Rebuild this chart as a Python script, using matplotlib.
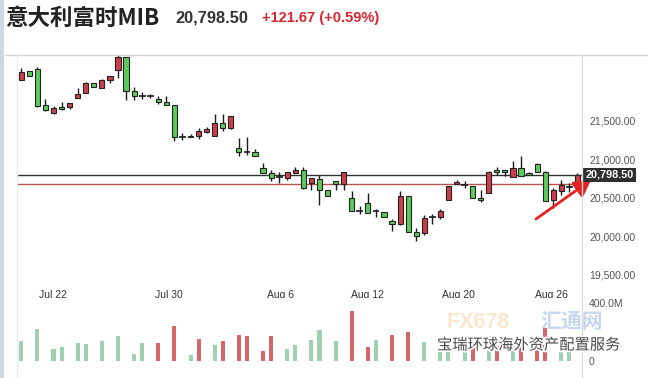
import numpy as np
import matplotlib.pyplot as plt
from matplotlib.patches import Rectangle
import matplotlib.patheffects as pe
from matplotlib.transforms import blended_transform_factory

plt.rcParams['font.family'] = ['Liberation Sans', 'DejaVu Sans']

# candle data (price points)
opens = [22022, 22138, 22164, 21699, 21596, 21677, 21674, 21797, 21854, 21983,
         21926, 22022, 22151, 22326, 21884, 21823, 21819, 21777, 21742, 21699,
         21281, 21299, 21299, 21346, 21299, 21467, 21410, 21145, 21093, 21093,
         20890, 20817, 20770, 20761, 20817, 20861, 20693, 20745, 20603, 20719,
         20680, 20499, 20332, 20435, 20326, 20310, 20197, 20155, 20525, 20052,
         20043, 20252, 20254, 20474, 20675, 20667, 20649, 20499, 20564, 20861,
         20861, 20774, 20886, 20817, 20938, 20835, 20468, 20585, 20645, 20701]
highs = [22185, 22138, 22190, 21781, 21694, 21738, 21725, 21923, 21996, 21983,
         22043, 22074, 22348, 22326, 21935, 21867, 21849, 21819, 21819, 21699,
         21338, 21320, 21403, 21419, 21583, 21583, 21557, 21277, 21286, 21132,
         20955, 20865, 20835, 20835, 20903, 20894, 20757, 20800, 20603, 20719,
         20835, 20581, 20396, 20555, 20352, 20310, 20228, 20581, 20525, 20112,
         20280, 20290, 20348, 20658, 20723, 20710, 20649, 20597, 20848, 20903,
         20861, 20981, 21045, 20835, 20955, 20852, 20623, 20723, 20693, 20826]
lows = [22022, 22074, 21677, 21622, 21587, 21635, 21652, 21790, 21854, 21939,
        21926, 21991, 22055, 21768, 21764, 21781, 21790, 21712, 21699, 21230,
        21248, 21281, 21255, 21333, 21299, 21359, 21397, 21036, 21054, 21041,
        20822, 20719, 20693, 20732, 20817, 20615, 20594, 20404, 20525, 20594,
        20594, 20332, 20293, 20306, 20249, 20254, 20068, 20142, 20052, 19939,
        20017, 20164, 20228, 20474, 20675, 20628, 20499, 20443, 20564, 20796,
        20787, 20765, 20783, 20791, 20835, 20461, 20361, 20533, 20577, 20675]
closes = [22133, 22074, 21690, 21635, 21665, 21648, 21725, 21841, 21983, 21939,
          22026, 22074, 22319, 21888, 21823, 21823, 21819, 21738, 21699, 21281,
          21281, 21290, 21368, 21394, 21467, 21410, 21557, 21093, 21093, 21041,
          20822, 20761, 20770, 20835, 20861, 20628, 20757, 20597, 20525, 20680,
          20835, 20332, 20332, 20306, 20326, 20254, 20164, 20525, 20052, 20004,
          20241, 20252, 20326, 20658, 20706, 20667, 20499, 20468, 20835, 20830,
          20830, 20886, 20783, 20791, 20835, 20461, 20606, 20671, 20645, 20798.5]

# volume in millions, 0 = no bar
volumes = [140, 0, 223, 0, 85, 99, 0, 126, 119, 0,
           140, 0, 175, 0, 50, 126, 0, 126, 0, 244,
           0, 43, 154, 0, 112, 140, 0, 181, 175, 0,
           71, 175, 0, 85, 112, 0, 147, 216, 0, 135,
           0, 342, 0, 98, 147, 0, 182, 0, 197, 0,
           130, 0, 110, 160, 0, 90, 140, 0, 170, 100,
           0, 120, 150, 0, 110, 230, 0, 120, 80, 0]
vol_colors = list("grgrggrggr"
                  "grgrggrrrr"
                  "ggrggrrrrr"
                  "rrrgggggrg"
                  "grrrgrrrrr"
                  "ggggggrggr"
                  "rgrrrrrggg")

tick_pos = [3.9, 18.3, 32.2, 42.9, 54.3, 65.8]
tick_labels = ['Jul 22', 'Jul 30', 'Aug 6', 'Aug 12', 'Aug 20', 'Aug 26']
price_ticks = [19500, 20000, 20500, 21000, 21500]
last_price = 20798.50
prev_close = 20676.83
change = 121.67
change_pct = 0.59

W, H = 648, 378
fig = plt.figure(figsize=(W / 100, H / 100), dpi=100)


def fx(px):
    return px / W


def fy(py):
    return 1 - py / H


ax = fig.add_axes([fx(17), fy(283), fx(582) - fx(17), fy(55) - fy(283)])
vax = fig.add_axes([fx(17), fy(362), fx(582) - fx(17), fy(298) - fy(362)])

up_col, down_col = '#cc3f4a', '#5ccb5c'
for i, (o, h, l, c) in enumerate(zip(opens, highs, lows, closes)):
    ax.vlines(i, l, h, color='#1a1a1a', lw=1, zorder=2)
    if o == c:
        ax.hlines(o, i - 0.42, i + 0.42, color='#1a1a1a', lw=1.2, zorder=3)
    else:
        ax.add_patch(Rectangle((i - 0.32, min(o, c)), 0.64, abs(c - o),
                               fc=up_col if c > o else down_col,
                               ec='#222222', lw=0.8, zorder=3))

ax.axhline(last_price, color='#333333', lw=1, zorder=1)
ax.axhline(prev_close, color='#b8524f', lw=1, zorder=1)

ax.set_xlim(-0.53, 69.57)
ax.set_ylim(19394, 22350)
ax.yaxis.tick_right()
ax.set_yticks(price_ticks, [f"{v:,.2f}" for v in price_ticks])
ax.set_xticks(tick_pos, tick_labels)
ax.tick_params(axis='y', length=0, pad=5, labelsize=7.5, labelcolor='#555555')
ax.tick_params(axis='x', length=0, pad=5, labelsize=7.5, labelcolor='#333333')
for s in ax.spines.values():
    s.set_visible(False)

# price tag
tr = blended_transform_factory(ax.transAxes, ax.transData)
ax.annotate(f"{last_price:,.2f}", xy=(1.0, last_price), xycoords=tr,
            xytext=(2.5, 0), textcoords='offset points', ha='left', va='center',
            color='white', fontsize=7.8, fontweight='bold', zorder=10,
            annotation_clip=False,
            bbox=dict(boxstyle='square,pad=0.2', fc='#2e2e2e', ec='none'))

# red arrow
ax.annotate('', xy=(fx(591), fy(180)), xycoords='figure fraction',
            xytext=(fx(536), fy(219)), textcoords='figure fraction',
            arrowprops=dict(arrowstyle='-|>,head_length=0.7,head_width=0.4',
                            color='#e3211f', lw=2, mutation_scale=14,
                            shrinkA=0, shrinkB=0),
            annotation_clip=False, zorder=5)

# volume
vcols = ['#d5676b' if k == 'r' else '#9fd1b0' for k in vol_colors]
vax.bar(np.arange(len(volumes)), np.array(volumes) * 1e6, width=0.5, color=vcols)
vax.set_xlim(-0.53, 69.57)
vax.set_ylim(-6.9e6, 434e6)
vax.yaxis.tick_right()
vax.set_yticks([0, 400e6], ['0', '400.0M'])
vax.set_xticks([])
vax.tick_params(axis='y', length=0, pad=5, labelsize=7.5, labelcolor='#555555')
for s in vax.spines.values():
    s.set_visible(False)

# frame lines
fig.add_artist(plt.Line2D([fx(5), 1], [fy(55), fy(55)], color='#d4d4d4', lw=1))
fig.add_artist(plt.Line2D([fx(582), fx(582)], [fy(55), 0], color='#dcdcdc', lw=1))
fig.add_artist(plt.Line2D([fx(17), fx(17)], [fy(55), 0], color='#ececec', lw=1))
fig.add_artist(Rectangle((0, 0), fx(4), 1, transform=fig.transFigure,
                         fc='#cdd7e6', ec='none'))

# header
fig.text(fx(5), fy(18), '意大利富时MIB', fontsize=16.2, fontweight='bold',
         family=['Noto Sans CJK SC', 'DejaVu Sans'], color='#222222', va='center')
fig.text(fx(175), fy(18), f"{last_price:,.2f}", fontsize=11.8, fontweight='bold',
         color='#333333', va='center')
fig.text(fx(262), fy(18), f"+{change:.2f} (+{change_pct:.2f}%)", fontsize=10.5,
         fontweight='bold', color='#d9232e', va='center')

# watermark
fig.text(fx(447), fy(322), 'FX678', fontsize=15.5, fontweight='bold',
         color='#f2c98e', alpha=0.45, va='center', zorder=20)
fig.text(fx(540), fy(322), '汇通网', fontsize=15, fontweight='bold',
         family=['Noto Sans CJK SC', 'DejaVu Sans'],
         color='#8fb0dc', alpha=0.5, va='center', zorder=20)
fig.text(fx(437), fy(345), '宝瑞环球海外资产配置服务', fontsize=11.0,
         family=['Noto Sans CJK SC', 'DejaVu Sans'], color='#4a4a4a',
         va='center', zorder=21,
         path_effects=[pe.withStroke(linewidth=2.5, foreground='white')])

fig.savefig('out.png', dpi=100)
